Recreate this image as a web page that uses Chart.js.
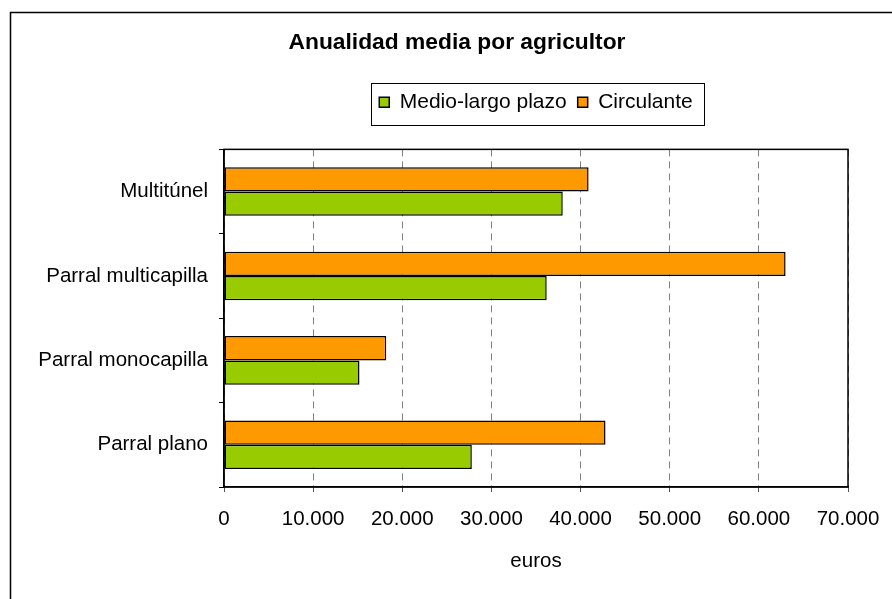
<!DOCTYPE html>
<html>
<head>
<meta charset="utf-8">
<script src="https://cdn.jsdelivr.net/npm/chart.js@4/dist/chart.umd.min.js"></script>
<style>
  body { margin: 0; background: #fff; }
  #wrap { width: 892px; height: 599px; }
</style>
</head>
<body>
<div id="wrap"><canvas id="chart"></canvas></div>
<script>
const categories = ["Multitúnel", "Parral multicapilla", "Parral monocapilla", "Parral plano"];
const medioLargo = [38000, 36200, 15200, 27800];
const circulante = [40900, 63000, 18200, 42800];
const xTickValues = [0, 10000, 20000, 30000, 40000, 50000, 60000, 70000];

const FONT = "'Liberation Sans', Arial, sans-serif";

function fmt(v) {
  if (v === 0) return "0";
  return (v / 1000) + ".000";
}

// outer frame + plot border
const frame = {
  id: "frame",
  beforeDraw(chart) {
    const ctx = chart.ctx;
    ctx.save();
    ctx.fillStyle = "#fff";
    ctx.fillRect(0, 0, chart.width, chart.height);
    ctx.strokeStyle = "#000";
    ctx.lineWidth = 1.5;
    ctx.beginPath();
    ctx.moveTo(10.5, chart.height);
    ctx.lineTo(10.5, 12.5);
    ctx.lineTo(chart.width, 12.5);
    ctx.stroke();
    ctx.restore();
  },
  beforeDatasetsDraw(chart) {
    const a = chart.chartArea, ctx = chart.ctx;
    ctx.save();
    ctx.strokeStyle = "#000";
    ctx.lineWidth = 1.5;
    ctx.strokeRect(a.left, a.top, a.right - a.left, a.bottom - a.top);
    ctx.restore();
  }
};

// legend: extra space below, centred over the plot, framed; title moved right
const legendBox = {
  id: "legendBox",
  beforeInit(chart) {
    const fit = chart.legend.fit;
    chart.legend.fit = function () {
      fit.bind(chart.legend)();
      this.height += 26.5;
    };
  },
  afterUpdate(chart) {
    const lg = chart.legend, a = chart.chartArea;
    const dx = (a.left + a.right) / 2 - (lg.left + lg.right) / 2;
    lg.left += dx;
    lg.right += dx;
    lg.legendHitBoxes.forEach(b => { b.left += dx; });
    const t = chart.titleBlock;
    const tdx = 457 - (t.left + t.right) / 2;
    t.left += tdx;
    t.right += tdx;
  },
  afterDraw(chart) {
    const boxes = chart.legend.legendHitBoxes;
    if (!boxes.length) return;
    const first = boxes[0], last = boxes[boxes.length - 1];
    const ctx = chart.ctx;
    ctx.save();
    ctx.strokeStyle = "#000";
    ctx.lineWidth = 1;
    const x1 = Math.round(first.left - 8) + 0.5;
    const x2 = Math.round(last.left + last.width + 11) + 0.5;
    const y1 = Math.round(first.top - 9) + 0.5;
    ctx.strokeRect(x1, y1, x2 - x1, 42);
    ctx.restore();
  }
};

new Chart(document.getElementById("chart"), {
  type: "bar",
  data: {
    labels: categories,
    datasets: [
      {
        label: "Circulante",
        data: circulante,
        backgroundColor: "#FF9900",
        borderColor: "#000",
        borderWidth: 1.5,
        borderSkipped: false
      },
      {
        label: "Medio-largo plazo",
        data: medioLargo,
        backgroundColor: "#99CC00",
        borderColor: "#000",
        borderWidth: 1.5,
        borderSkipped: false
      }
    ]
  },
  options: {
    indexAxis: "y",
    responsive: true,
    maintainAspectRatio: false,
    animation: false,
    datasets: { bar: { categoryPercentage: 0.575, barPercentage: 1 } },
    layout: { padding: { left: 10, right: 44, top: 0, bottom: 0 } },
    plugins: {
      tooltip: { enabled: false },
      title: {
        display: true,
        text: "Anualidad media por agricultor",
        color: "#000",
        font: { family: FONT, size: 22.8, weight: "bold" },
        padding: { top: 29.5, bottom: 24 }
      },
      legend: {
        display: true,
        reverse: true,
        labels: {
          color: "#000",
          font: { family: FONT, size: 21 },
          boxWidth: 10,
          boxHeight: 10,
          padding: 11
        }
      }
    },
    scales: {
      x: {
        type: "linear",
        min: 0,
        max: 70000,
        afterBuildTicks(scale) {
          scale.ticks = xTickValues.map(v => ({ value: v }));
        },
        afterFit(scale) {
          scale.height = 112;
          scale.paddingRight = 30;
          scale.paddingLeft = 0;
        },
        ticks: {
          color: "#000",
          font: { family: FONT, size: 20.5 },
          padding: 15,
          maxRotation: 0,
          callback: v => fmt(v)
        },
        grid: {
          color: "#808080",
          lineWidth: 1,
          drawTicks: true,
          tickLength: 5,
          tickColor: "#555",
          tickBorderDash: []
        },
        border: { display: true, color: "#000", width: 1.5, dash: [7, 5] },
        title: {
          display: true,
          text: "euros",
          color: "#000",
          font: { family: FONT, size: 20.5 },
          padding: { top: 0, bottom: 25 }
        }
      },
      y: {
        afterFit(scale) { scale.width = 214; },
        ticks: {
          color: "#000",
          font: { family: FONT, size: 20.5 },
          padding: 11
        },
        grid: {
          drawOnChartArea: false,
          drawTicks: true,
          tickLength: 5,
          color: "#000",
          tickColor: "#000",
          tickBorderDash: []
        },
        border: { display: true, color: "#000", width: 1.5 }
      }
    }
  },
  plugins: [frame, legendBox]
});
</script>
</body>
</html>
